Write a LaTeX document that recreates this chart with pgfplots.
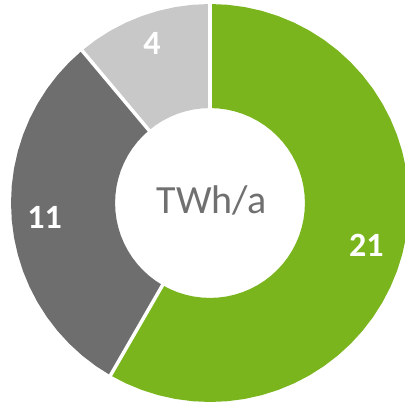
\documentclass[border=0pt]{standalone}
\usepackage{pgfplots}
\pgfplotsset{compat=1.18}
\usepgfplotslibrary{polar}
\usepackage{fontspec}
\setmainfont{Carlito}
\definecolor{cgreen}{HTML}{7AB51E}
\definecolor{cdark}{HTML}{6E6E6E}
\definecolor{clight}{HTML}{C8C8C8}
\definecolor{ctext}{HTML}{707070}
\begin{document}
\begin{tikzpicture}
\useasboundingbox (0,0) rectangle (405pt,404pt);
\clip (0,0) rectangle (405pt,404pt);
\begin{polaraxis}[
  at={(210pt,201pt)}, anchor=origin,
  hide axis, scale only axis,
  width=398pt, height=398pt,
  ymin=0, ymax=1,
  clip=false,
]
% Green: 21 (210 degrees clockwise from top)
\addplot[draw=none, fill=cgreen] coordinates {
(90,1)(85,1)(80,1)(75,1)(70,1)(65,1)(60,1)(55,1)(50,1)(45,1)(40,1)(35,1)(30,1)(25,1)(20,1)(15,1)(10,1)(5,1)(0,1)
(-5,1)(-10,1)(-15,1)(-20,1)(-25,1)(-30,1)(-35,1)(-40,1)(-45,1)(-50,1)(-55,1)(-60,1)(-65,1)(-70,1)(-75,1)(-80,1)
(-85,1)(-90,1)(-95,1)(-100,1)(-105,1)(-110,1)(-115,1)(-120,1)
(-120,0.477)(-115,0.477)(-110,0.477)(-105,0.477)(-100,0.477)(-95,0.477)(-90,0.477)(-85,0.477)(-80,0.477)(-75,0.477)
(-70,0.477)(-65,0.477)(-60,0.477)(-55,0.477)(-50,0.477)(-45,0.477)(-40,0.477)(-35,0.477)(-30,0.477)(-25,0.477)
(-20,0.477)(-15,0.477)(-10,0.477)(-5,0.477)(0,0.477)(5,0.477)(10,0.477)(15,0.477)(20,0.477)(25,0.477)(30,0.477)
(35,0.477)(40,0.477)(45,0.477)(50,0.477)(55,0.477)(60,0.477)(65,0.477)(70,0.477)(75,0.477)(80,0.477)(85,0.477)(90,0.477)
};
% Dark gray: 11 (110 degrees)
\addplot[draw=none, fill=cdark] coordinates {
(-120,1)(-125,1)(-130,1)(-135,1)(-140,1)(-145,1)(-150,1)(-155,1)(-160,1)(-165,1)(-170,1)(-175,1)(-180,1)
(-185,1)(-190,1)(-195,1)(-200,1)(-205,1)(-210,1)(-215,1)(-220,1)(-225,1)(-230,1)
(-230,0.477)(-225,0.477)(-220,0.477)(-215,0.477)(-210,0.477)(-205,0.477)(-200,0.477)(-195,0.477)(-190,0.477)
(-185,0.477)(-180,0.477)(-175,0.477)(-170,0.477)(-165,0.477)(-160,0.477)(-155,0.477)(-150,0.477)(-145,0.477)
(-140,0.477)(-135,0.477)(-130,0.477)(-125,0.477)(-120,0.477)
};
% Light gray: 4 (40 degrees)
\addplot[draw=none, fill=clight] coordinates {
(-230,1)(-235,1)(-240,1)(-245,1)(-250,1)(-255,1)(-260,1)(-265,1)(-270,1)
(-270,0.477)(-265,0.477)(-260,0.477)(-255,0.477)(-250,0.477)(-245,0.477)(-240,0.477)(-235,0.477)(-230,0.477)
};
% separators
\addplot[white, line width=3.5pt] coordinates {(90,0.45)(90,1.02)};
\addplot[white, line width=3.5pt] coordinates {(-120,0.45)(-120,1.02)};
\addplot[white, line width=3.5pt] coordinates {(-230,0.45)(-230,1.02)};
% value labels
\addplot[draw=none, mark=none, nodes near coords, point meta=explicit symbolic,
  nodes near coords style={anchor=center, text=white, font=\fontsize{34}{40}\selectfont\bfseries}]
  coordinates {(-15,0.814)[21] (185,0.834)[11] (110,0.854)[4]};
% centre label
\addplot[draw=none, mark=none, nodes near coords, point meta=explicit symbolic,
  nodes near coords style={anchor=center, text=ctext, font=\fontsize{40}{46}\selectfont}]
  coordinates {(55,0.015)[TWh/a]};
\end{polaraxis}
\end{tikzpicture}
\end{document}
